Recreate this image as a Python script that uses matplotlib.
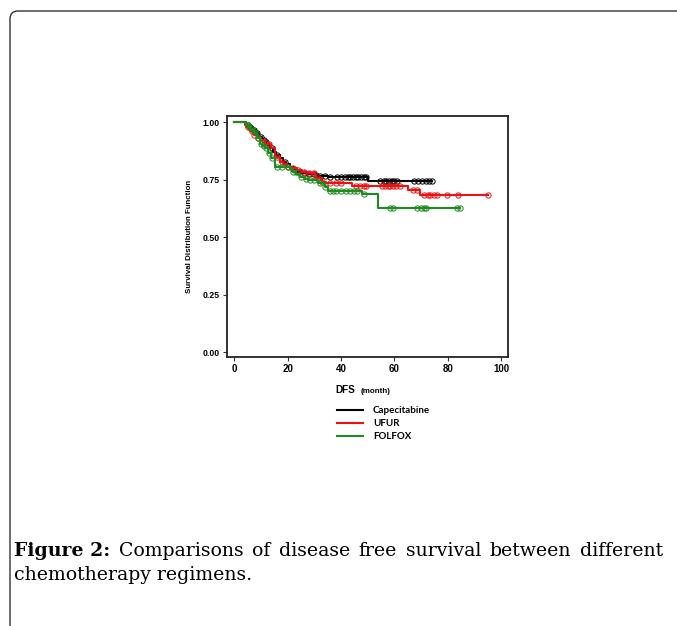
import matplotlib
matplotlib.use('Agg')
import matplotlib.pyplot as plt
import numpy as np
from matplotlib.patches import FancyBboxPatch
from matplotlib.transforms import IdentityTransform

# Curvas de sobrevida (Kaplan-Meier): tempos de evento e sobrevida
cap_t = [0, 4.5, 5.5, 6.9, 8, 9.4, 10.5, 11.4, 12.3, 13.2, 14.5, 15.7, 17, 18.2, 19.5,
         20.8, 22, 23.3, 25, 27.6, 31.4, 35.2, 50.3]
cap_s = [1.0, 0.99, 0.978, 0.967, 0.952, 0.937, 0.925, 0.916, 0.90, 0.887, 0.872, 0.858,
         0.843, 0.829, 0.818, 0.807, 0.795, 0.785, 0.778, 0.774, 0.768, 0.764, 0.746]
cap_fim = 74
cap_cens = [5, 6, 7.5, 8.5, 10, 11, 12, 14, 16, 19, 22, 24, 26, 28, 30, 32, 34, 36, 38.5,
            40, 41.5, 42.5, 43.5, 44.5, 45.5, 46.5, 47.5, 48.5, 49.5, 54.5, 56, 57, 58,
            59, 60, 61, 67.5, 69, 70.5, 72, 73, 74]

ufur_t = [0, 4, 4.5, 6, 7.5, 8.8, 10, 11.5, 13.8, 15.1, 17, 18.3, 19.7, 21.5, 23.5, 25.5,
          27.6, 30.2, 32.7, 34.5, 44, 65.3, 69.6]
ufur_s = [1.0, 0.99, 0.98, 0.962, 0.945, 0.933, 0.923, 0.905, 0.887, 0.85, 0.829, 0.818,
          0.807, 0.80, 0.793, 0.785, 0.778, 0.757, 0.742, 0.735, 0.723, 0.706, 0.684]
ufur_fim = 95.3
ufur_cens = [5, 6.5, 7.5, 9, 12, 13, 16, 18, 20, 22, 24, 26, 28, 30, 31.5, 33, 36, 38, 40,
             45.5, 47, 48.5, 49.3, 55.3, 56.5, 57.5, 58.5, 59.5, 60.5, 62, 67, 68.5, 71,
             72.5, 73.5, 75, 76, 79.6, 84, 95.3]

folfox_t = [0, 4.5, 5.5, 6.4, 7.5, 8.5, 9.5, 10.5, 11.4, 12.6, 13.9, 15.1, 20.8, 22, 23.3,
            24.6, 26.4, 27.6, 31.4, 33.9, 35.1, 47.8, 54]
folfox_s = [1.0, 0.99, 0.978, 0.967, 0.952, 0.93, 0.908, 0.897, 0.887, 0.865, 0.843, 0.807,
            0.795, 0.785, 0.775, 0.764, 0.755, 0.749, 0.735, 0.72, 0.703, 0.687, 0.629]
folfox_fim = 84.6
folfox_cens = [5, 6, 7, 8, 9, 10, 11, 12, 13, 14, 16, 18, 20, 22, 23, 25, 27, 28.5, 30, 32,
               34, 36, 37, 38, 40, 42, 43.5, 45, 46, 48.5, 58.5, 59.5, 68.5, 70, 71, 72,
               83.5, 84.6]

grupos = ['Capecitabine', 'UFUR', 'FOLFOX']
cores = ['#000000', '#ee1111', '#1e8c1e']
yticks = [0.0, 0.25, 0.5, 0.75, 1.0]
xticks = [0, 20, 40, 60, 80, 100]

fig = plt.figure(figsize=(6.77, 6.26), dpi=100)
ax = fig.add_axes([0.3349, 0.4292, 0.415, 0.386])

dados = [(cap_t, cap_s, cap_fim, cap_cens),
         (ufur_t, ufur_s, ufur_fim, ufur_cens),
         (folfox_t, folfox_s, folfox_fim, folfox_cens)]
linhas = []
for (t, s, fim, cens), nome, cor in zip(dados, grupos, cores):
    t = np.array(t + [fim])
    s = np.array(s + [s[-1]])
    ln, = ax.step(t, s, where='post', color=cor, linewidth=1.5, label=nome)
    linhas.append(ln)
    # marcas de censura sobre a curva
    cens = np.array(cens)
    sc = s[np.searchsorted(t, cens, side='right') - 1]
    ax.plot(cens, sc, 'o', mfc='none', mec=cor, ms=3.8, mew=0.7)

ax.set_xlim(-2.85, 102.5)
ax.set_ylim(-0.022, 1.029)
ax.set_xticks(xticks)
ax.set_yticks(yticks)
ax.set_xticklabels([str(v) for v in xticks], fontsize=7, fontweight='bold', family='Liberation Sans')
ax.set_yticklabels([f'{v:.2f}' for v in yticks], fontsize=6.3, fontweight='bold', family='Liberation Sans')
ax.tick_params(length=3, width=0.8, pad=2, color='#333333')
for sp in ax.spines.values():
    sp.set_linewidth(1.3)
    sp.set_color('#222222')
ax.set_ylabel('Survival Distribution Function', fontsize=5.7, fontweight='bold', family='Liberation Sans')
ax.yaxis.set_label_coords(-0.12, 0.5)

# Rotulo do eixo x
fig.text(335 / 677, 1 - 390 / 626, 'DFS', fontsize=7.2, fontweight='bold',
         family='Liberation Sans', va='center')
fig.text(361 / 677, 1 - 391.5 / 626, '(month)', fontsize=5.8, fontweight='bold',
         family='Liberation Sans', va='center')

# Legenda
fig.legend(handles=linhas, loc='upper left', bbox_to_anchor=(337 / 677, 1 - 406 / 626),
           frameon=False, prop={'family': 'Lato', 'weight': 'bold', 'size': 7},
           handlelength=2.7, handletextpad=1.0, labelspacing=0.42, borderpad=0, borderaxespad=0)

# Moldura arredondada
moldura = FancyBboxPatch((10, -60), 720, 675, boxstyle='round,pad=0,rounding_size=8',
                         transform=IdentityTransform(), fill=False, edgecolor='#333333',
                         linewidth=1.0)
fig.add_artist(moldura)

# Legenda da figura (justificada na primeira linha)
fonte = 'DejaVu Serif'
tam = 13.6
palavras = ['Figure 2:', 'Comparisons', 'of', 'disease', 'free', 'survival', 'between', 'different']
textos = []
for i, p in enumerate(palavras):
    txt = fig.text(0, 0, p, transform=IdentityTransform(), fontsize=tam, family=fonte,
                   fontweight='bold' if i == 0 else 'normal', va='baseline')
    textos.append(txt)
fig.text(14, 626 - 580, 'chemotherapy regimens.', transform=IdentityTransform(),
         fontsize=tam, family=fonte, va='baseline')

fig.canvas.draw()
r = fig.canvas.get_renderer()
larguras = [t.get_window_extent(r).width for t in textos]
esp = (663 - 14 - sum(larguras)) / (len(textos) - 1)
x = 14
for t, w in zip(textos, larguras):
    t.set_position((x, 626 - 556))
    x += w + esp

fig.savefig('out.png', dpi=100)
